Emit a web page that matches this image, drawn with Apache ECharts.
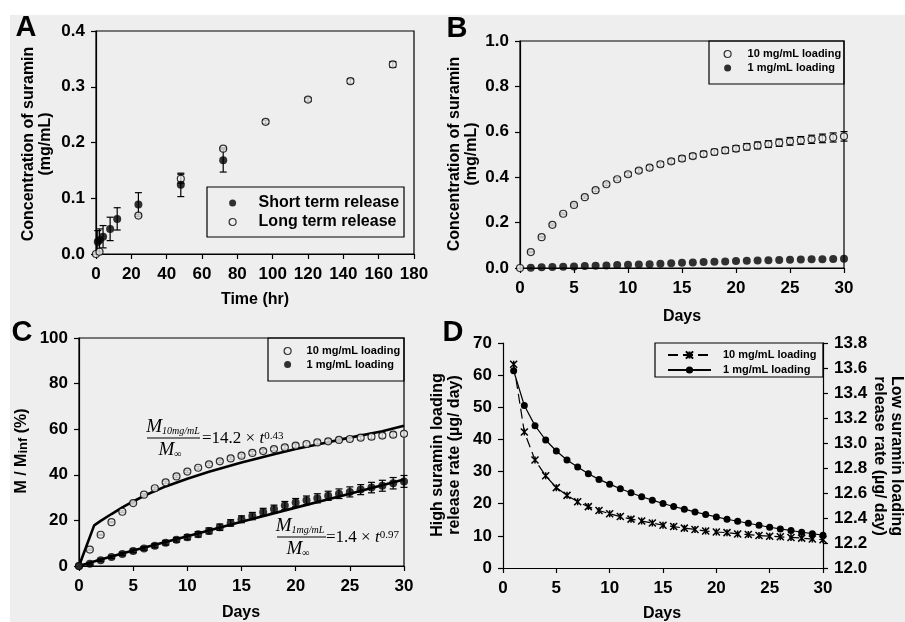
<!DOCTYPE html>
<html>
<head>
<meta charset="utf-8">
<script src="https://cdn.jsdelivr.net/npm/echarts@6/dist/echarts.min.js"></script>
<style>
html,body{margin:0;padding:0;background:#ffffff;}
#c{width:905px;height:622px;}
</style>
</head>
<body>
<div id="c"></div>
<script>
// ---------- Panel A data ----------
const aShortT = [1, 2, 4, 8, 12, 24, 48, 72];
const aShortY = [0.022, 0.025, 0.031, 0.045, 0.063, 0.089, 0.124, 0.168];
const aShortErr = [0.02, 0.02, 0.02, 0.021, 0.02, 0.021, 0.021, 0.021];
const aLongT = [0, 2, 24, 48, 72, 96, 120, 144, 168];
const aLongY = [0.0, 0.004, 0.069, 0.135, 0.189, 0.237, 0.277, 0.31, 0.34];
const aLongErr = [0, 0, 0.002, 0.008, 0.002, 0.003, 0.003, 0.004, 0.005];
const aXTicks = [0, 180, 20];
const aYTicks = [0, 0.4, 0.1];

// ---------- Panel B data ----------
const days = [0,1,2,3,4,5,6,7,8,9,10,11,12,13,14,15,16,17,18,19,20,21,22,23,24,25,26,27,28,29,30];
const bHigh = [0, 0.070, 0.136, 0.190, 0.239, 0.278, 0.312, 0.343, 0.369, 0.391, 0.413, 0.429, 0.442, 0.457, 0.470, 0.482, 0.493, 0.502, 0.511, 0.518, 0.526, 0.534, 0.540, 0.546, 0.552, 0.558, 0.562, 0.567, 0.571, 0.575, 0.580];
const bHighErr = [0, 0.003, 0.003, 0.004, 0.004, 0.005, 0.005, 0.006, 0.006, 0.007, 0.008, 0.008, 0.009, 0.010, 0.010, 0.011, 0.011, 0.012, 0.012, 0.013, 0.013, 0.014, 0.015, 0.015, 0.016, 0.017, 0.017, 0.018, 0.019, 0.020, 0.021];
const bLow = [0, 0.001, 0.003, 0.004, 0.006, 0.007, 0.009, 0.010, 0.011, 0.013, 0.014, 0.015, 0.017, 0.019, 0.021, 0.023, 0.024, 0.026, 0.028, 0.029, 0.031, 0.032, 0.033, 0.034, 0.035, 0.036, 0.037, 0.038, 0.039, 0.040, 0.041];

// ---------- Panel C data ----------
const cHigh = [0, 7.2, 13.7, 19.2, 23.8, 27.6, 31.3, 34.1, 36.7, 39.3, 41.4, 43.1, 44.6, 45.9, 47.2, 48.4, 49.6, 50.4, 51.3, 52.0, 52.8, 53.5, 54.2, 54.7, 55.3, 55.7, 56.3, 56.7, 57.2, 57.6, 58.0];
const cHighErr = [0, 0.3, 0.3, 0.3, 0.4, 0.4, 0.4, 0.5, 0.5, 0.5, 0.5, 0.6, 0.6, 0.6, 0.6, 0.7, 0.7, 0.7, 0.7, 0.8, 0.8, 0.8, 0.8, 0.9, 0.9, 0.9, 0.9, 1.0, 1.0, 1.0, 1.0];
const cLow = [0, 1.0, 2.5, 3.9, 5.3, 6.6, 7.7, 8.9, 10.2, 11.5, 12.6, 13.9, 15.4, 17.0, 18.9, 20.5, 21.9, 23.7, 25.0, 26.5, 27.8, 28.8, 29.7, 30.8, 31.7, 32.5, 33.5, 34.4, 35.2, 36.3, 37.1];
const cLowErr = [0, 0.5, 0.5, 0.6, 0.7, 0.8, 0.8, 0.9, 1.0, 1.0, 1.1, 1.2, 1.3, 1.4, 1.4, 1.5, 1.6, 1.6, 1.7, 1.8, 1.8, 1.9, 2.0, 2.0, 2.1, 2.2, 2.2, 2.3, 2.4, 2.5, 2.6];
const cFitHighDays = [0, 1.4, 2, 3, 4, 5, 6, 8, 10, 12, 15, 18, 20, 22, 25, 28, 30];
const cFitHigh = [0, 17.8, 19.8, 22.8, 25.7, 28.3, 30.8, 34.9, 38.3, 41.3, 45.4, 49.0, 51.3, 53.3, 56.3, 59.1, 61.5];
const cFitLowDays = [0, 1, 2, 5, 10, 15, 20, 25, 30];
const cFitLow = [0, 1.4, 2.8, 6.8, 13.1, 19.4, 25.6, 31.7, 37.9];

// ---------- Panel D data ----------
const dDays = [1,2,3,4,5,6,7,8,9,10,11,12,13,14,15,16,17,18,19,20,21,22,23,24,25,26,27,28,29,30];
const dHigh = [63.4, 42.3, 33.6, 28.7, 25.0, 22.6, 20.6, 19.1, 17.9, 16.9, 16.0, 15.2, 14.6, 14.0, 13.3, 12.9, 12.4, 12.0, 11.5, 11.2, 11.0, 10.6, 10.4, 10.1, 9.9, 9.7, 9.5, 9.3, 9.0, 8.8];
const dLow = [13.578, 13.300, 13.139, 13.024, 12.936, 12.864, 12.808, 12.754, 12.709, 12.671, 12.634, 12.602, 12.570, 12.543, 12.516, 12.492, 12.471, 12.449, 12.428, 12.409, 12.390, 12.374, 12.358, 12.342, 12.326, 12.313, 12.300, 12.286, 12.275, 12.262];

// ---------- Labels ----------
const legendNames = {
  AS: 'Short term release', AL: 'Long term release',
  B10: '10 mg/mL loading', B1: '1 mg/mL loading',
  C10: '10 mg/mL loading', C1: '1 mg/mL loading',
  D10: '10 mg/mL loading', D1: '1 mg/mL loading'
};

const SANS = '"Liberation Sans", Arial, sans-serif';
const SERIF = '"Liberation Serif", "Times New Roman", serif';
const BG = '#eeeeee';

const chart = echarts.init(document.getElementById('c'), null, {renderer: 'canvas'});

function zip(xs, ys) { return xs.map((x, i) => [x, ys[i]]); }
function errData(xs, ys, es) {
  const out = [];
  xs.forEach((x, i) => { if (es[i] > 0) out.push([x, ys[i] - es[i], ys[i] + es[i]]); });
  return out;
}
function errRender(cap) {
  return function (params, api) {
    const x = api.value(0), lo = api.value(1), hi = api.value(2);
    const a = api.coord([x, hi]), b = api.coord([x, lo]);
    const st = {stroke: '#000', lineWidth: 1.2};
    return {type: 'group', children: [
      {type: 'line', shape: {x1: a[0], y1: a[1], x2: b[0], y2: b[1]}, style: st},
      {type: 'line', shape: {x1: a[0] - cap, y1: a[1], x2: a[0] + cap, y2: a[1]}, style: st},
      {type: 'line', shape: {x1: b[0] - cap, y1: b[1], x2: b[0] + cap, y2: b[1]}, style: st}
    ]};
  };
}
function errSeries(idx, data, cap) {
  return {type: 'custom', xAxisIndex: idx, yAxisIndex: idx, data: data,
    renderItem: errRender(cap), encode: {x: 0, y: [1, 2]}, z: 2, silent: true};
}
const OPEN = {color: BG, borderColor: '#000', borderWidth: 1.2};
const FILL = {color: '#000', borderColor: '#000', borderWidth: 0};

function xAxis(grid, min, max, interval, fs) {
  return {type: 'value', gridIndex: grid, min: min, max: max, interval: interval,
    axisLine: {show: true, onZero: false, lineStyle: {color: '#000', width: 1.2}},
    axisTick: {show: true, inside: false, length: 5, lineStyle: {color: '#000', width: 1.2}},
    axisLabel: {color: '#000', fontWeight: 'bold', fontSize: fs, fontFamily: SANS, margin: 12},
    splitLine: {show: false}};
}
function yAxis(grid, min, max, interval, dec, fs, pos) {
  return {type: 'value', gridIndex: grid, min: min, max: max, interval: interval, position: pos || 'left',
    axisLine: {show: true, onZero: false, lineStyle: {color: '#000', width: 1.2}},
    axisTick: {show: true, inside: false, length: 5, lineStyle: {color: '#000', width: 1.2}},
    axisLabel: {color: '#000', fontWeight: 'bold', fontSize: fs, fontFamily: SANS, margin: 11,
      formatter: v => Number(v).toFixed(dec)},
    splitLine: {show: false}};
}
function legend(names, left, top, iw, ih, lh, gap, pad, items) {
  return {show: true, orient: 'vertical', left: left, top: top, padding: 0,
    itemWidth: iw, itemHeight: ih, itemGap: gap, selectedMode: false,
    formatter: n => legendNames[n],
    textStyle: {color: '#000', fontWeight: 'bold', fontFamily: SANS, fontSize: lh === 16 ? 16 : 11,
      lineHeight: lh, padding: [0, 0, 0, pad]},
    data: items};
}
function txt(x, y, text, font, rot, extra) {
  return Object.assign({type: 'text', x: x, y: y, rotation: rot || 0, z: 10,
    style: {text: text, font: font, fill: '#000', textAlign: 'center', textVerticalAlign: 'middle',
      align: 'center', verticalAlign: 'middle', lineHeight: 17}}, extra || {});
}
function box(x1, y1, x2, y2) {
  return {type: 'rect', shape: {x: x1, y: y1, width: x2 - x1, height: y2 - y1}, z: 5,
    style: {fill: 'none', stroke: '#000', lineWidth: 1.2}};
}
function hline(x1, x2, y) {
  return {type: 'line', shape: {x1: x1, y1: y, x2: x2, y2: y}, z: 10, style: {stroke: '#000', lineWidth: 1.1}};
}
const RICH = {
  M: {fontFamily: SERIF, fontStyle: 'italic', fontSize: 19, fill: '#000'},
  sub: {fontFamily: SERIF, fontStyle: 'italic', fontSize: 10, fill: '#000', verticalAlign: 'bottom'},
  n: {fontFamily: SERIF, fontSize: 17, fill: '#000'},
  t: {fontFamily: SERIF, fontStyle: 'italic', fontSize: 17, fill: '#000'},
  sup: {fontFamily: SERIF, fontSize: 11, fill: '#000', verticalAlign: 'top'},
  a: {fontFamily: SANS, fontWeight: 'bold', fontSize: 16, fill: '#000'},
  s: {fontFamily: SANS, fontWeight: 'bold', fontSize: 13, fill: '#000', verticalAlign: 'bottom'}
};
function rich(x, y, text, align, rot) {
  return {type: 'text', x: x, y: y, rotation: rot || 0, z: 10,
    style: {text: text, rich: RICH, fill: '#000', textAlign: align, align: align,
      textVerticalAlign: 'middle', verticalAlign: 'middle'}};
}

const TITLE = 'bold 16px ' + SANS;
const LETTER = 'bold 29px ' + SANS;

const option = {
  animation: false,
  backgroundColor: '#ffffff',
  grid: [
    {left: 96, top: 31, width: 318, height: 223, show: true, borderColor: '#000', borderWidth: 1.2, backgroundColor: 'transparent', containLabel: false, outerBoundsMode: 'none'},
    {left: 520, top: 41, width: 324, height: 227, show: true, borderColor: '#000', borderWidth: 1.2, backgroundColor: 'transparent', containLabel: false, outerBoundsMode: 'none'},
    {left: 79, top: 338, width: 325, height: 228, show: true, borderColor: '#000', borderWidth: 1.2, backgroundColor: 'transparent', containLabel: false, outerBoundsMode: 'none'},
    {left: 503, top: 343, width: 320, height: 225, show: false, containLabel: false, outerBoundsMode: 'none'}
  ],
  xAxis: [
    xAxis(0, aXTicks[0], aXTicks[1], aXTicks[2], 17),
    xAxis(1, 0, 30, 5, 17),
    xAxis(2, 0, 30, 5, 17),
    xAxis(3, 0, 30, 5, 17)
  ],
  yAxis: [
    yAxis(0, aYTicks[0], aYTicks[1], aYTicks[2], 1, 17),
    yAxis(1, 0, 1.0, 0.2, 1, 17),
    yAxis(2, 0, 100, 20, 0, 17),
    yAxis(3, 0, 70, 10, 0, 17),
    yAxis(3, 12.0, 13.8, 0.2, 1, 17, 'right')
  ],
  legend: [
    legend(['AS', 'AL'], 228.5, 195, 7, 7, 16, 3, 17.5, [
      {name: 'AS', icon: 'circle', itemStyle: FILL},
      {name: 'AL', icon: 'circle', itemStyle: OPEN}]),
    legend(['B10', 'B1'], 723.5, 47.5, 7, 7, 13, 1, 11.5, [
      {name: 'B10', icon: 'circle', itemStyle: OPEN},
      {name: 'B1', icon: 'circle', itemStyle: FILL}]),
    legend(['C10', 'C1'], 283.5, 344.5, 7, 7, 13, 0.5, 10.5, [
      {name: 'C10', icon: 'circle', itemStyle: OPEN},
      {name: 'C1', icon: 'circle', itemStyle: FILL}]),
    legend(['D10', 'D1'], 667, 348.5, 43, 9, 13, 2, 7, [
      {name: 'D10'}, {name: 'D1'}])
  ],
  series: [
    // A
    errSeries(0, errData(aShortT, aShortY, aShortErr), 3.5),
    errSeries(0, errData(aLongT, aLongY, aLongErr), 3.5),
    {name: 'AS', type: 'scatter', xAxisIndex: 0, yAxisIndex: 0, data: zip(aShortT, aShortY),
      symbol: 'circle', symbolSize: 8, itemStyle: FILL, z: 4},
    {name: 'AL', type: 'scatter', xAxisIndex: 0, yAxisIndex: 0, data: zip(aLongT, aLongY),
      symbol: 'circle', symbolSize: 7, itemStyle: OPEN, z: 3},
    // B
    errSeries(1, errData(days, bHigh, bHighErr), 3.5),
    {name: 'B10', type: 'scatter', xAxisIndex: 1, yAxisIndex: 1, data: zip(days, bHigh),
      symbol: 'circle', symbolSize: 7, itemStyle: OPEN, z: 3},
    {name: 'B1', type: 'scatter', xAxisIndex: 1, yAxisIndex: 1, data: zip(days.slice(1), bLow.slice(1)),
      symbol: 'circle', symbolSize: 8, itemStyle: FILL, z: 4},
    // C
    {name: 'fitHigh', type: 'line', xAxisIndex: 2, yAxisIndex: 2, data: zip(cFitHighDays, cFitHigh),
      symbol: 'none', smooth: false, lineStyle: {color: '#000', width: 2.6}, z: 2, silent: true},
    {name: 'fitLow', type: 'line', xAxisIndex: 2, yAxisIndex: 2, data: zip(cFitLowDays, cFitLow),
      symbol: 'none', smooth: false, lineStyle: {color: '#000', width: 2.6}, z: 2, silent: true},
    errSeries(2, errData(days, cLow, cLowErr), 3.5),
    errSeries(2, errData(days, cHigh, cHighErr), 3),
    {name: 'C10', type: 'scatter', xAxisIndex: 2, yAxisIndex: 2, data: zip(days, cHigh),
      symbol: 'circle', symbolSize: 7, itemStyle: OPEN, z: 3},
    {name: 'C1', type: 'scatter', xAxisIndex: 2, yAxisIndex: 2, data: zip(days, cLow),
      symbol: 'circle', symbolSize: 8, itemStyle: FILL, z: 4},
    // D
    {name: 'D10', type: 'line', xAxisIndex: 3, yAxisIndex: 3, data: zip(dDays, dHigh),
      symbol: 'path://M0 0L10 10M10 0L0 10M5 0L5 10', symbolSize: 7, showAllSymbol: true,
      itemStyle: {color: '#000', borderColor: '#000', borderWidth: 1.5},
      lineStyle: {color: '#000', width: 1.2, type: [10, 5]}, z: 3},
    {name: 'D1', type: 'line', xAxisIndex: 3, yAxisIndex: 4, data: zip(dDays, dLow),
      symbol: 'circle', symbolSize: 7, showAllSymbol: true,
      itemStyle: {color: '#000', borderColor: '#000', borderWidth: 0},
      lineStyle: {color: '#000', width: 1.2, type: 'solid'}, z: 3}
  ],
  graphic: [
    {type: 'rect', shape: {x: 10, y: 15, width: 895, height: 607}, z: -10, style: {fill: BG}},
    // panel letters
    txt(26, 28, 'A', LETTER), txt(457, 29, 'B', LETTER), txt(22, 333, 'C', LETTER), txt(453, 333, 'D', LETTER),
    // axis titles
    txt(37, 144, 'Concentration of suramin\n(mg/mL)', TITLE, Math.PI / 2),
    txt(255, 300, 'Time (hr)', TITLE),
    txt(463, 154, 'Concentration of suramin\n(mg/mL)', TITLE, Math.PI / 2),
    txt(682, 317, 'Days', TITLE),
    rich(22, 451, '{a|M / M}{s|inf}{a| (%)}', 'center', Math.PI / 2),
    txt(241, 613, 'Days', TITLE),
    txt(446, 455, 'High suramin loading\nrelease rate (µg/ day)', TITLE, Math.PI / 2),
    txt(888, 456, 'Low suramin loading\nrelease rate (µg/ day)', TITLE, -Math.PI / 2),
    txt(662, 614, 'Days', TITLE),
    // legend boxes
    box(207, 187, 404, 237),
    box(709, 41, 844, 84),
    box(268, 338, 404, 381),
    box(655, 343, 823, 377),
    // equation C (10 mg/mL)
    rich(173, 427, '{M|M}{sub|10mg/mL}', 'center'),
    hline(147, 200, 438),
    rich(170, 450, '{M|M}{sub|∞}', 'center'),
    rich(202, 439, '{n|=14.2 × }{t|t}{sup|0.43}', 'left'),
    // equation C (1 mg/mL)
    rich(300, 526, '{M|M}{sub|1mg/mL}', 'center'),
    hline(277, 326, 537),
    rich(298, 549, '{M|M}{sub|∞}', 'center'),
    rich(326, 538, '{n|=1.4 × }{t|t}{sup|0.97}', 'left')
  ]
};
chart.setOption(option);
</script>
</body>
</html>
